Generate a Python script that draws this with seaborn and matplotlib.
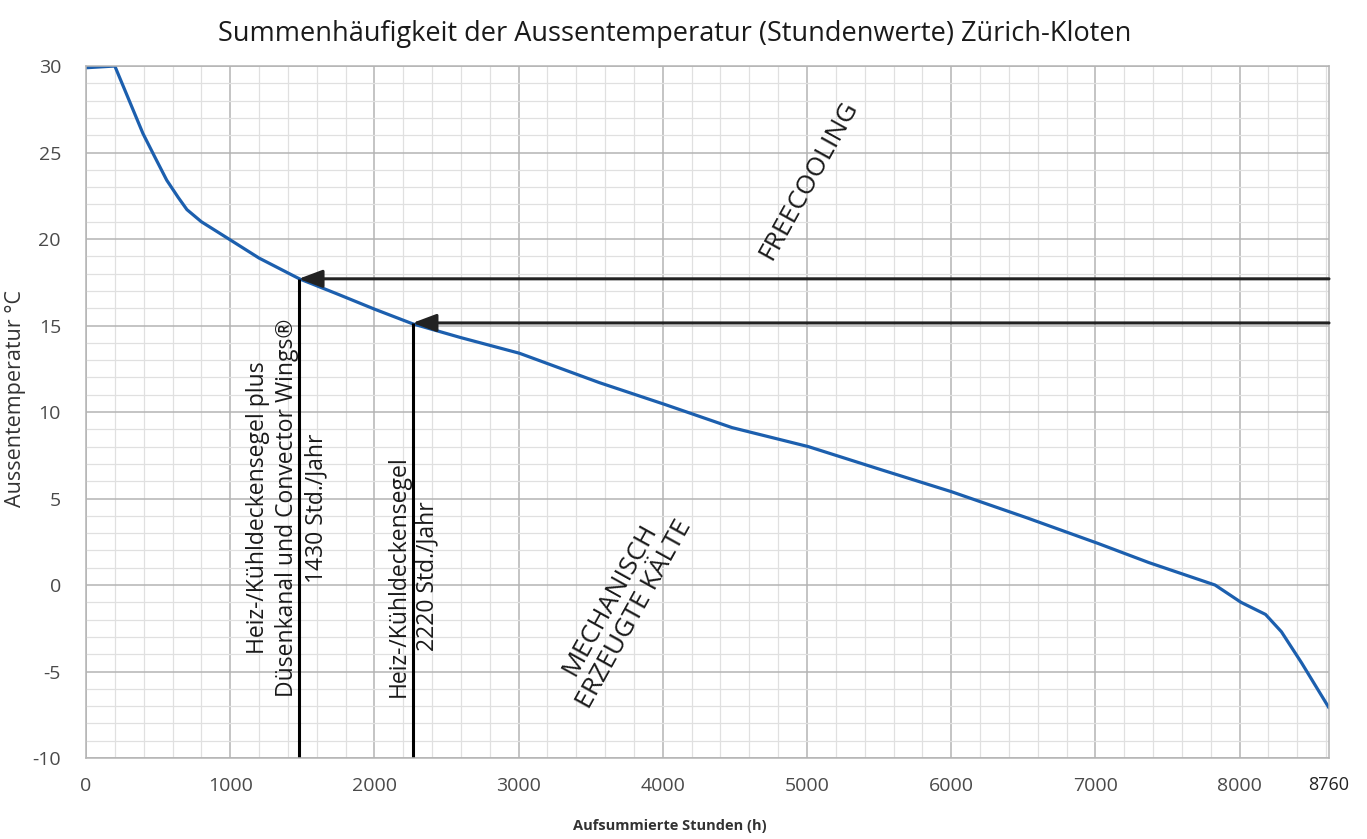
# -*- coding: utf-8 -*-
"""
Summenhäufigkeit der Aussentemperatur (Stundenwerte) Zürich-Kloten
"""

import matplotlib
matplotlib.use("Agg")
import matplotlib.pyplot as plt
from matplotlib.ticker import MultipleLocator
import pandas as pd
import seaborn as sns

# =====================
# Daten
# =====================
hours = [0, 200, 300, 395, 480, 560, 640, 700, 800, 1010, 1200, 1480, 1750,
         2000, 2265, 2600, 3005, 3560, 4010, 4480, 5010, 5520, 6000, 6520,
         7020, 7370, 7830, 8010, 8180, 8290, 8430, 8620]
temps = [29.9, 30.0, 28.0, 26.1, 24.7, 23.4, 22.4, 21.7, 21.0, 19.9, 18.9, 17.7,
         16.8, 15.95, 15.1, 14.3, 13.4, 11.7, 10.45, 9.1, 8.0, 6.65, 5.4, 3.9,
         2.4, 1.3, 0.0, -1.0, -1.7, -2.7, -4.5, -7.1]

# Grenzen der Systeme (Stunden / Temperatur am Schnittpunkt)
limit_hours = [1475, 2265]
limit_temps = [17.7, 15.15]
limit_labels = [
    "Heiz-/Kühldeckensegel plus\nDüsenkanal und Convector Wings®\n1430 Std./Jahr",
    "Heiz-/Kühldeckensegel\n2220 Std./Jahr",
]

x_ticks = [0, 1000, 2000, 3000, 4000, 5000, 6000, 7000, 8000]
y_ticks = [-10, -5, 0, 5, 10, 15, 20, 25, 30]
x_end = 8620

df = pd.DataFrame({"Stunden": hours, "Temperatur": temps})

# =====================
# Stil
# =====================
sns.set_theme(style="white")
plt.rcParams["font.family"] = ["Open Sans", "DejaVu Sans"]
plt.rcParams["axes.unicode_minus"] = False

fig = plt.figure(figsize=(13.67, 8.39), dpi=100)
ax = fig.add_axes([0.0629, 0.0965, 0.9093, 0.8248])

# Raster
ax.xaxis.set_major_locator(MultipleLocator(1000))
ax.xaxis.set_minor_locator(MultipleLocator(200))
ax.yaxis.set_major_locator(MultipleLocator(5))
ax.yaxis.set_minor_locator(MultipleLocator(1))
ax.grid(which="major", color="#b4b4b4", linewidth=1.1)
ax.grid(which="minor", color="#e0e0e0", linewidth=0.9)
ax.set_axisbelow(True)

# Summenkurve
sns.lineplot(data=df, x="Stunden", y="Temperatur", ax=ax,
             color="#1c5fae", linewidth=2.3)

ax.set_xlim(0, x_end)
ax.set_ylim(-10, 30)
ax.set_xticks(x_ticks)
ax.set_yticks(y_ticks)

for s in ax.spines.values():
    s.set_color("#b4b4b4")
    s.set_linewidth(1.1)

ax.tick_params(axis="both", which="both", length=0, labelsize=14,
               labelcolor="#4a4a4a")
ax.tick_params(axis="x", pad=14)
ax.tick_params(axis="y", pad=18)

# 8760 h am Ende der Achse
ax.text(x_end, -0.039, "8760", transform=ax.get_xaxis_transform(),
        ha="center", va="center", fontsize=13, color="#222222")

# Achsentitel
ax.set_title("Summenhäufigkeit der Aussentemperatur (Stundenwerte) Zürich-Kloten",
             fontsize=19.5, color="#1a1a1a", pad=18, x=0.474)
ax.set_ylabel("Aussentemperatur °C", fontsize=15.5, color="#333333")
ax.yaxis.set_label_coords(-0.048, 0.52)
ax.set_xlabel("Aufsummierte Stunden (h)", fontsize=10.5, fontweight="bold",
              color="#333333")
ax.xaxis.set_label_coords(0.47, -0.088)

# =====================
# Grenzlinien und Pfeile
# =====================
for h, t in zip(limit_hours, limit_temps):
    ax.vlines(h, -10, t, color="black", linewidth=2.2)
    ax.annotate("", xy=(h, t), xytext=(x_end, t),
                arrowprops=dict(arrowstyle="-|>,head_length=0.8,head_width=0.3",
                                color="#222222", lw=2.2, shrinkA=0, shrinkB=0,
                                mutation_scale=18))

ax.text(1394, 4.45, limit_labels[0], rotation=90, ha="center", va="center",
        multialignment="center", fontsize=16.5, linespacing=1.3, color="#1a1a1a")
ax.text(2268, 0.52, limit_labels[1], rotation=90, ha="center", va="center",
        multialignment="center", fontsize=16.5, linespacing=1.3, color="#1a1a1a")

# Bereiche
ax.text(3717, -1.27, "MECHANISCH\nERZEUGTE KÄLTE", rotation=61, ha="center",
        va="center", multialignment="center", fontsize=19, linespacing=1.2,
        color="#1a1a1a")
ax.text(5014, 23.4, "FREECOOLING", rotation=61, ha="center", va="center",
        fontsize=19, color="#1a1a1a")

fig.savefig("out.png", dpi=100, facecolor="white")
